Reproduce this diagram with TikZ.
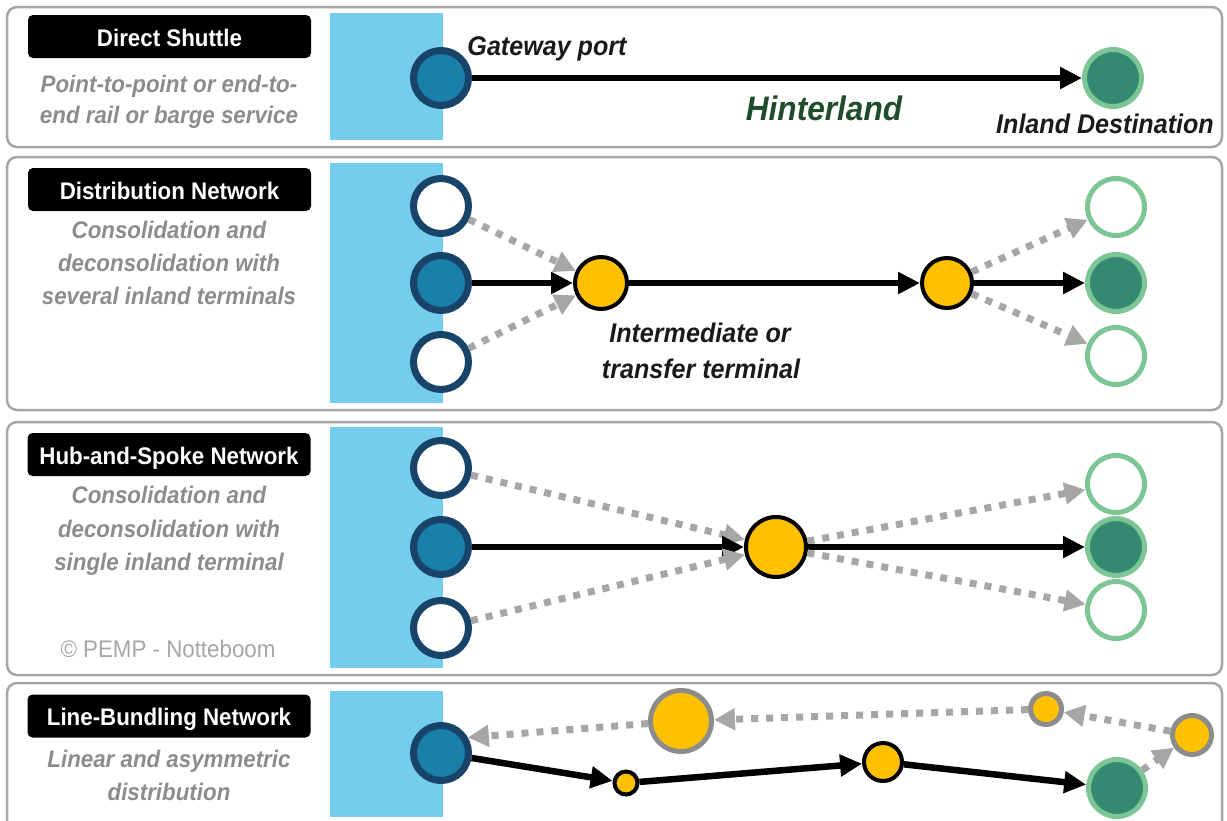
\documentclass[tikz,border=0pt]{standalone}
\usepackage{fontspec}
\setmainfont{Liberation Sans}[FakeStretch=0.93]
\usetikzlibrary{arrows.meta}
\definecolor{seablue}{HTML}{75CDEE}
\definecolor{portfill}{HTML}{1A80AA}
\definecolor{portdraw}{HTML}{174468}
\definecolor{destfill}{HTML}{338A70}
\definecolor{destdraw}{HTML}{7DC594}
\definecolor{orangef}{HTML}{FFC000}
\definecolor{panelgray}{HTML}{A6A6A6}
\definecolor{descgray}{HTML}{8C8C8C}
\definecolor{ringgray}{HTML}{8C8C8C}
\definecolor{dashgray}{HTML}{A6A6A6}
\definecolor{copygray}{HTML}{A6A6A6}
\definecolor{hintgreen}{HTML}{1F4D2C}
\definecolor{textblack}{HTML}{1A1A1A}
\begin{document}
\begin{tikzpicture}[x=1pt,y=-1pt,
 panel/.style={draw=panelgray, line width=2.5pt, rounded corners=10pt, fill=white},
 sea/.style={fill=seablue},
 tag/.style={fill=black, rounded corners=5pt, text=white, font=\fontsize{24}{28}\selectfont\bfseries, minimum width=283pt, minimum height=43pt, inner sep=0pt, text height=19pt, text depth=0pt},
 desc/.style={text=descgray, font=\fontsize{24}{28}\selectfont\bfseries\itshape, anchor=base, inner sep=0pt},
 note/.style={text=textblack, font=\fontsize{27}{32}\selectfont\bfseries\itshape, anchor=base, inner sep=0pt},
 port/.style={circle, fill=portfill, draw=portdraw, line width=7pt, minimum size=55pt, inner sep=0pt},
 portempty/.style={port, fill=white},
 dest/.style={circle, fill=destfill, draw=destdraw, line width=5pt, minimum size=57pt, inner sep=0pt},
 destempty/.style={dest, fill=white},
 term/.style={circle, fill=orangef, draw=black, line width=4pt, inner sep=0pt},
 termgray/.style={circle, fill=orangef, draw=ringgray, line width=5pt, inner sep=0pt},
 flow/.style={line width=6.5pt, -{Triangle[length=22pt,width=21pt]}},
 alt/.style={line width=7pt, draw=dashgray, dash pattern=on 7pt off 8pt, -{Triangle[length=21pt,width=21pt]}},
]
\useasboundingbox (0,0) rectangle (1227,820);
\clip (0,0) rectangle (1227,820);

% panels
\draw[panel] (7,7) rectangle (1222,147);
\draw[panel] (7,157) rectangle (1222,410);
\draw[panel] (7,422) rectangle (1222,675);
\draw[panel] (7,683) rectangle (1222,860);

% sea strips
\fill[sea] (330,13) rectangle (443,140);
\fill[sea] (330,163) rectangle (443,403);
\fill[sea] (330,427) rectangle (443,668);
\fill[sea] (330,691) rectangle (443,817);

% labels
\node[tag] (l1) at (169.5,36.5) {Direct Shuttle};
\node[desc] (l1a) at (169,92) {Point-to-point or end-to-};
\node[desc] (l1b) at (169,123) {end rail or barge service};

\node[tag] (l2) at (169.5,189.5) {Distribution Network};
\node[desc] (l2a) at (169,238) {Consolidation and};
\node[desc] (l2b) at (169,271) {deconsolidation with};
\node[desc] (l2c) at (169,304) {several inland terminals};

\node[tag] (l3) at (169,454.5) {Hub-and-Spoke Network};
\node[desc] (l3a) at (169,503) {Consolidation and};
\node[desc] (l3b) at (169,537) {deconsolidation with};
\node[desc] (l3c) at (169,570) {single inland terminal};
\node[anchor=base, inner sep=0pt, text=copygray, font=\fontsize{24}{28}\selectfont] (cp) at (168,657) {© PEMP - Notteboom};

\node[tag] (l4) at (169,716) {Line-Bundling Network};
\node[desc] (l4a) at (169,767) {Linear and asymmetric};
\node[desc] (l4b) at (169,800) {distribution};

% panel 1
\node[port] (gw) at (441,78) {};
\node[dest] (id) at (1113,78) {};
\draw[flow] (gw) -- (id);
\node[note] (gwt) at (547,55) {Gateway port};
\node[note, text=hintgreen, font=\fontsize{34}{40}\selectfont\bfseries\itshape] (hl) at (824,120) {Hinterland};
\node[note] (idt) at (1105,133) {Inland Destination};

% panel 2
\node[portempty] (a1) at (441,206) {};
\node[port] (a2) at (441,283) {};
\node[portempty] (a3) at (441,362) {};
\node[term, minimum size=52pt] (t1) at (601,283) {};
\node[term, minimum size=50pt] (t2) at (947,283) {};
\node[destempty] (b1) at (1116,207) {};
\node[dest] (b2) at (1116,283) {};
\node[destempty] (b3) at (1116,356) {};
\draw[alt] (a1) -- (t1);
\draw[flow] (a2) -- (t1);
\draw[alt] (a3) -- (t1);
\draw[flow] (t1) -- (t2);
\draw[alt] (t2) -- (b1);
\draw[flow] (t2) -- (b2);
\draw[alt] (t2) -- (b3);
\node[note] (it1) at (700,342) {Intermediate or};
\node[note] (it2) at (701,378) {transfer terminal};

% panel 3
\node[portempty] (c1) at (441,468) {};
\node[port] (c2) at (441,547) {};
\node[portempty] (c3) at (441,628) {};
\node[term, minimum size=60pt] (hub) at (776,547) {};
\node[destempty] (d1) at (1116,484) {};
\node[dest] (d2) at (1116,547) {};
\node[destempty] (d3) at (1116,610) {};
\draw[alt] (c1) -- (hub);
\draw[flow] (c2) -- (hub);
\draw[alt] (c3) -- (hub);
\draw[alt] (hub) -- (d1);
\draw[flow] (hub) -- (d2);
\draw[alt] (hub) -- (d3);

% panel 4
\node[port] (p) at (441,753) {};
\node[term, minimum size=23pt] (s1) at (626,783) {};
\node[term, minimum size=38pt] (s2) at (883,762) {};
\node[dest] (g) at (1117,788) {};
\node[termgray, minimum size=39pt] (r1) at (1192,735) {};
\node[termgray, minimum size=31pt] (r2) at (1046,709) {};
\node[termgray, minimum size=61pt] (r3) at (681,721) {};
\draw[flow] (p) -- (s1);
\draw[flow] (s1) -- (s2);
\draw[flow] (s2) -- (g);
\draw[alt] (g) -- (r1);
\draw[alt] (r1) -- (r2);
\draw[alt] (r2) -- (r3);
\draw[alt] (r3) -- (p.30);
\end{tikzpicture}
\end{document}
